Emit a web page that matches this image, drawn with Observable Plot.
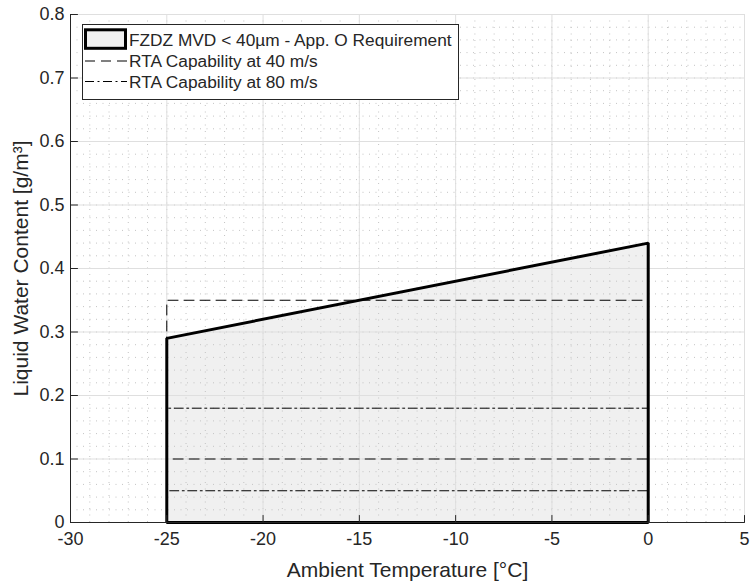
<!DOCTYPE html>
<html>
<head>
<meta charset="utf-8">
<script src="https://cdn.jsdelivr.net/npm/d3@7"></script>
<script src="https://cdn.jsdelivr.net/npm/@observablehq/plot@0.6"></script>
<style>
  html, body { margin: 0; padding: 0; background: #fff; }
  #chart { width: 751px; height: 586px; }
</style>
</head>
<body>
<div id="chart"></div>
<script>
// Axis ticks
const xTicks = [-30, -25, -20, -15, -10, -5, 0, 5];
const yTicks = [0, 0.1, 0.2, 0.3, 0.4, 0.5, 0.6, 0.7, 0.8];
const xMinor = d3.range(-30, 5.001, 1);
const yMinor = d3.range(0, 0.8001, 0.02);

// App. O FZDZ (MVD < 40 µm) envelope: LWC limit at each temperature bound
const envTemp = [-25, 0];
const envLwc = [0.29, 0.44];

// RTA capability ranges (LWC low / high) over the same temperature span
const capTemp = [-25, 0];
const cap40 = [0.10, 0.35];
const cap80 = [0.05, 0.18];

const legendLabels = [
  "FZDZ MVD < 40µm - App. O Requirement",
  "RTA Capability at 40 m/s",
  "RTA Capability at 80 m/s"
];

const DASH = "10,6";
const DASHDOT = "9,3.5,2,3.5";
const INK = "#262626";
const FONT = "'Liberation Sans', Arial, Helvetica, sans-serif";

// Closed outlines
const envOutline = [
  {x: envTemp[0], y: 0},
  {x: envTemp[0], y: envLwc[0]},
  {x: envTemp[1], y: envLwc[1]},
  {x: envTemp[1], y: 0}
];
const envTop = envTemp.map((t, i) => ({x: t, y: envLwc[i]}));
const rect = ([t0, t1], [lo, hi]) => [
  {x: t0, y: lo}, {x: t0, y: hi}, {x: t1, y: hi}, {x: t1, y: lo}
];

// inward tick mark shape
const tickShape = {draw(ctx, l) { ctx.moveTo(0, 0); ctx.lineTo(0, -l); }};

const chart = Plot.plot({
  width: 751,
  height: 586,
  marginLeft: 70,
  marginRight: 7,
  marginTop: 14,
  marginBottom: 64,
  style: {fontFamily: FONT, fontSize: "18px", color: INK, background: "#fff", overflow: "visible"},
  x: {domain: [-30, 5]},
  y: {domain: [0, 0.8]},
  marks: [
    // requirement envelope fill
    Plot.areaY(envTop, {x: "x", y: "y", fill: "#f0f0f0"}),
    // minor grid (dotted)
    Plot.ruleX(xMinor, {stroke: "#c4c4c4", strokeDasharray: "1,5.5", strokeWidth: 1}),
    Plot.ruleY(yMinor, {stroke: "#c4c4c4", strokeDasharray: "1,5.5", strokeWidth: 1}),
    // major grid
    Plot.ruleX(xTicks, {stroke: "#dfdfdf", strokeWidth: 1}),
    Plot.ruleY(yTicks, {stroke: "#dfdfdf", strokeWidth: 1}),
    // capability ranges
    Plot.line(rect(capTemp, cap40), {x: "x", y: "y", curve: "linear-closed", stroke: "#000", strokeWidth: 1, strokeDasharray: DASH}),
    Plot.line(rect(capTemp, cap80), {x: "x", y: "y", curve: "linear-closed", stroke: "#000", strokeWidth: 1, strokeDasharray: DASHDOT}),
    // envelope outline
    Plot.line(envOutline, {x: "x", y: "y", curve: "linear-closed", stroke: "#000", strokeWidth: 3, strokeLinejoin: "miter"}),
    // axis lines
    Plot.ruleX([-30], {stroke: INK, strokeWidth: 1}),
    Plot.ruleY([0], {stroke: INK, strokeWidth: 1}),
    // inward ticks
    Plot.vectorX(xTicks, {frameAnchor: "bottom", length: 7, anchor: "start", rotate: 0, shape: tickShape, stroke: INK, strokeWidth: 1}),
    Plot.vectorY(yTicks, {frameAnchor: "left", length: 7, anchor: "start", rotate: 90, shape: tickShape, stroke: INK, strokeWidth: 1}),
    // tick labels
    Plot.axisX(xTicks, {tickSize: 0, tickPadding: 10, tickFormat: d => String(d), label: null, fontSize: 18, fill: INK}),
    Plot.axisY(yTicks, {tickSize: 0, tickPadding: 6, tickFormat: d => String(d), label: null, fontSize: 18, fill: INK}),
    // axis titles
    Plot.text(["Ambient Temperature [°C]"], {frameAnchor: "bottom", dy: 48, fontSize: 21, fill: INK, lineAnchor: "middle", textAnchor: "middle"}),
    Plot.text(["Liquid Water Content [g/m³]"], {frameAnchor: "left", dx: -49, rotate: -90, fontSize: 21, fill: INK, lineAnchor: "middle", textAnchor: "middle"})
  ]
});

// legend box drawn inside the axes, top-left
const svg = d3.select(chart);
const lg = svg.append("g")
  .attr("font-family", FONT)
  .attr("font-size", 17)
  .attr("text-anchor", "start")
  .attr("fill", INK);
lg.append("rect").attr("x", 82.5).attr("y", 24.5).attr("width", 376).attr("height", 75)
  .attr("fill", "#fff").attr("stroke", INK).attr("stroke-width", 1);
lg.append("rect").attr("x", 85.5).attr("y", 29.8).attr("width", 40).attr("height", 18.5)
  .attr("fill", "#f0f0f0").attr("stroke", "#000").attr("stroke-width", 3);
lg.append("line").attr("x1", 85).attr("x2", 127).attr("y1", 61).attr("y2", 61)
  .attr("stroke", "#000").attr("stroke-width", 1).attr("stroke-dasharray", DASH);
lg.append("line").attr("x1", 85).attr("x2", 127).attr("y1", 81.5).attr("y2", 81.5)
  .attr("stroke", "#000").attr("stroke-width", 1).attr("stroke-dasharray", DASHDOT);
[40, 61, 81.5].forEach((y, i) => {
  lg.append("text")
    .attr("x", 129).attr("y", y).attr("dy", "0.35em")
    .attr("text-anchor", "start")
    .style("font-size", "17.3px")
    .text(legendLabels[i]);
});

document.getElementById("chart").appendChild(chart);
</script>
</body>
</html>
